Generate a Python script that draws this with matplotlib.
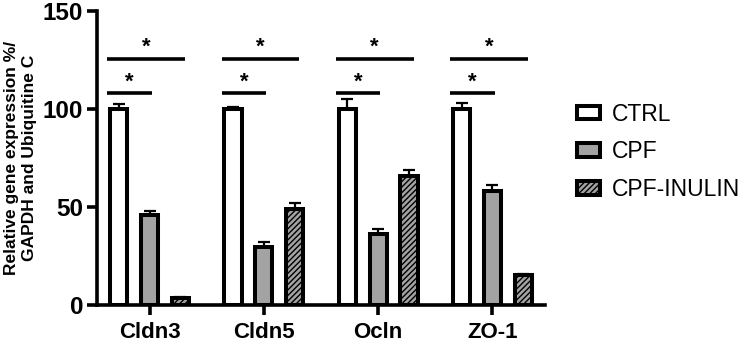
import numpy as np
import matplotlib
matplotlib.use('Agg')
import matplotlib.pyplot as plt
from matplotlib.patches import Patch

plt.rcParams.update({'font.family': 'Liberation Sans', 'hatch.linewidth': 1.0})

genes = ['Cldn3', 'Cldn5', 'Ocln', 'ZO-1']
groups = ['CTRL', 'CPF', 'CPF-INULIN']

ctrl = [100, 100, 100, 100]
ctrl_err = [2.5, 1.2, 5.0, 3.0]
cpf = [46, 29.5, 36, 58]
cpf_err = [2.2, 2.5, 2.6, 3.0]
inulin = [3.5, 49, 66, 15.5]
inulin_err = [0.5, 3.2, 3.0, 0.4]

# significance bars (upper: CTRL vs CPF-INULIN, lower: CTRL vs CPF)
sig_hi = 125.5
sig_lo = 108

means = [ctrl, cpf, inulin]
errs = [ctrl_err, cpf_err, inulin_err]
styles = [
    ('white', None),
    ('#a3a3a3', None),
    ('#a3a3a3', '//////'),
]

fig = plt.figure(figsize=(7.5, 3.47), dpi=100)
ax = fig.add_axes([97 / 750, 1 - 305 / 347, 448 / 750, 294 / 347])

x = np.arange(len(genes))
off = 0.27
w = 0.15
for i, (m, e, (fc, hatch)) in enumerate(zip(means, errs, styles)):
    pos = x + (i - 1) * off
    ax.errorbar(pos, m, yerr=[np.zeros(len(e)), e], fmt='none', ecolor='black',
                elinewidth=1.6, capsize=4, capthick=1.6, zorder=1)
    ax.bar(pos, m, w, color=fc, edgecolor='black', linewidth=2.9, hatch=hatch, zorder=2)

for xi in x:
    ax.plot([xi - 0.37, xi + 0.31], [sig_hi, sig_hi], color='black', lw=2.6, solid_capstyle='butt')
    ax.plot([xi - 0.37, xi + 0.02], [sig_lo, sig_lo], color='black', lw=2.6, solid_capstyle='butt')
    ax.text(xi - 0.03, sig_hi + 0.5, '*', ha='center', va='bottom', fontsize=16, fontweight='bold')
    ax.text(xi - 0.175, sig_lo + 0.5, '*', ha='center', va='bottom', fontsize=16, fontweight='bold')

ax.set_xlim(-0.46, 3.46)
ax.set_ylim(0, 150)
ax.set_yticks([0, 50, 100, 150])
ax.set_xticks(x)
ax.set_xticklabels(genes)
for s in ['top', 'right']:
    ax.spines[s].set_visible(False)
for s in ['left', 'bottom']:
    ax.spines[s].set_linewidth(2.6)
ax.tick_params(axis='both', width=2.6, length=7)
ax.tick_params(axis='x', labelsize=16, pad=5)
ax.tick_params(axis='y', labelsize=17.5, pad=3)
for lab in ax.get_xticklabels() + ax.get_yticklabels():
    lab.set_fontweight('bold')
ax.set_ylabel('Relative gene expression %/\nGAPDH and Ubiquitine C', fontsize=12.5,
              fontweight='bold', labelpad=4, linespacing=1.25)

handles = [Patch(facecolor=fc, edgecolor='black', linewidth=2.9, hatch=h) for fc, h in styles]
fig.legend(handles, groups, loc='center left', bbox_to_anchor=(556 / 750, 1 - 152 / 347),
           frameon=False, fontsize=16.5, handlelength=1.0, handleheight=0.55,
           labelspacing=0.65, handletextpad=0.55)

fig.savefig('out.png', dpi=100)
